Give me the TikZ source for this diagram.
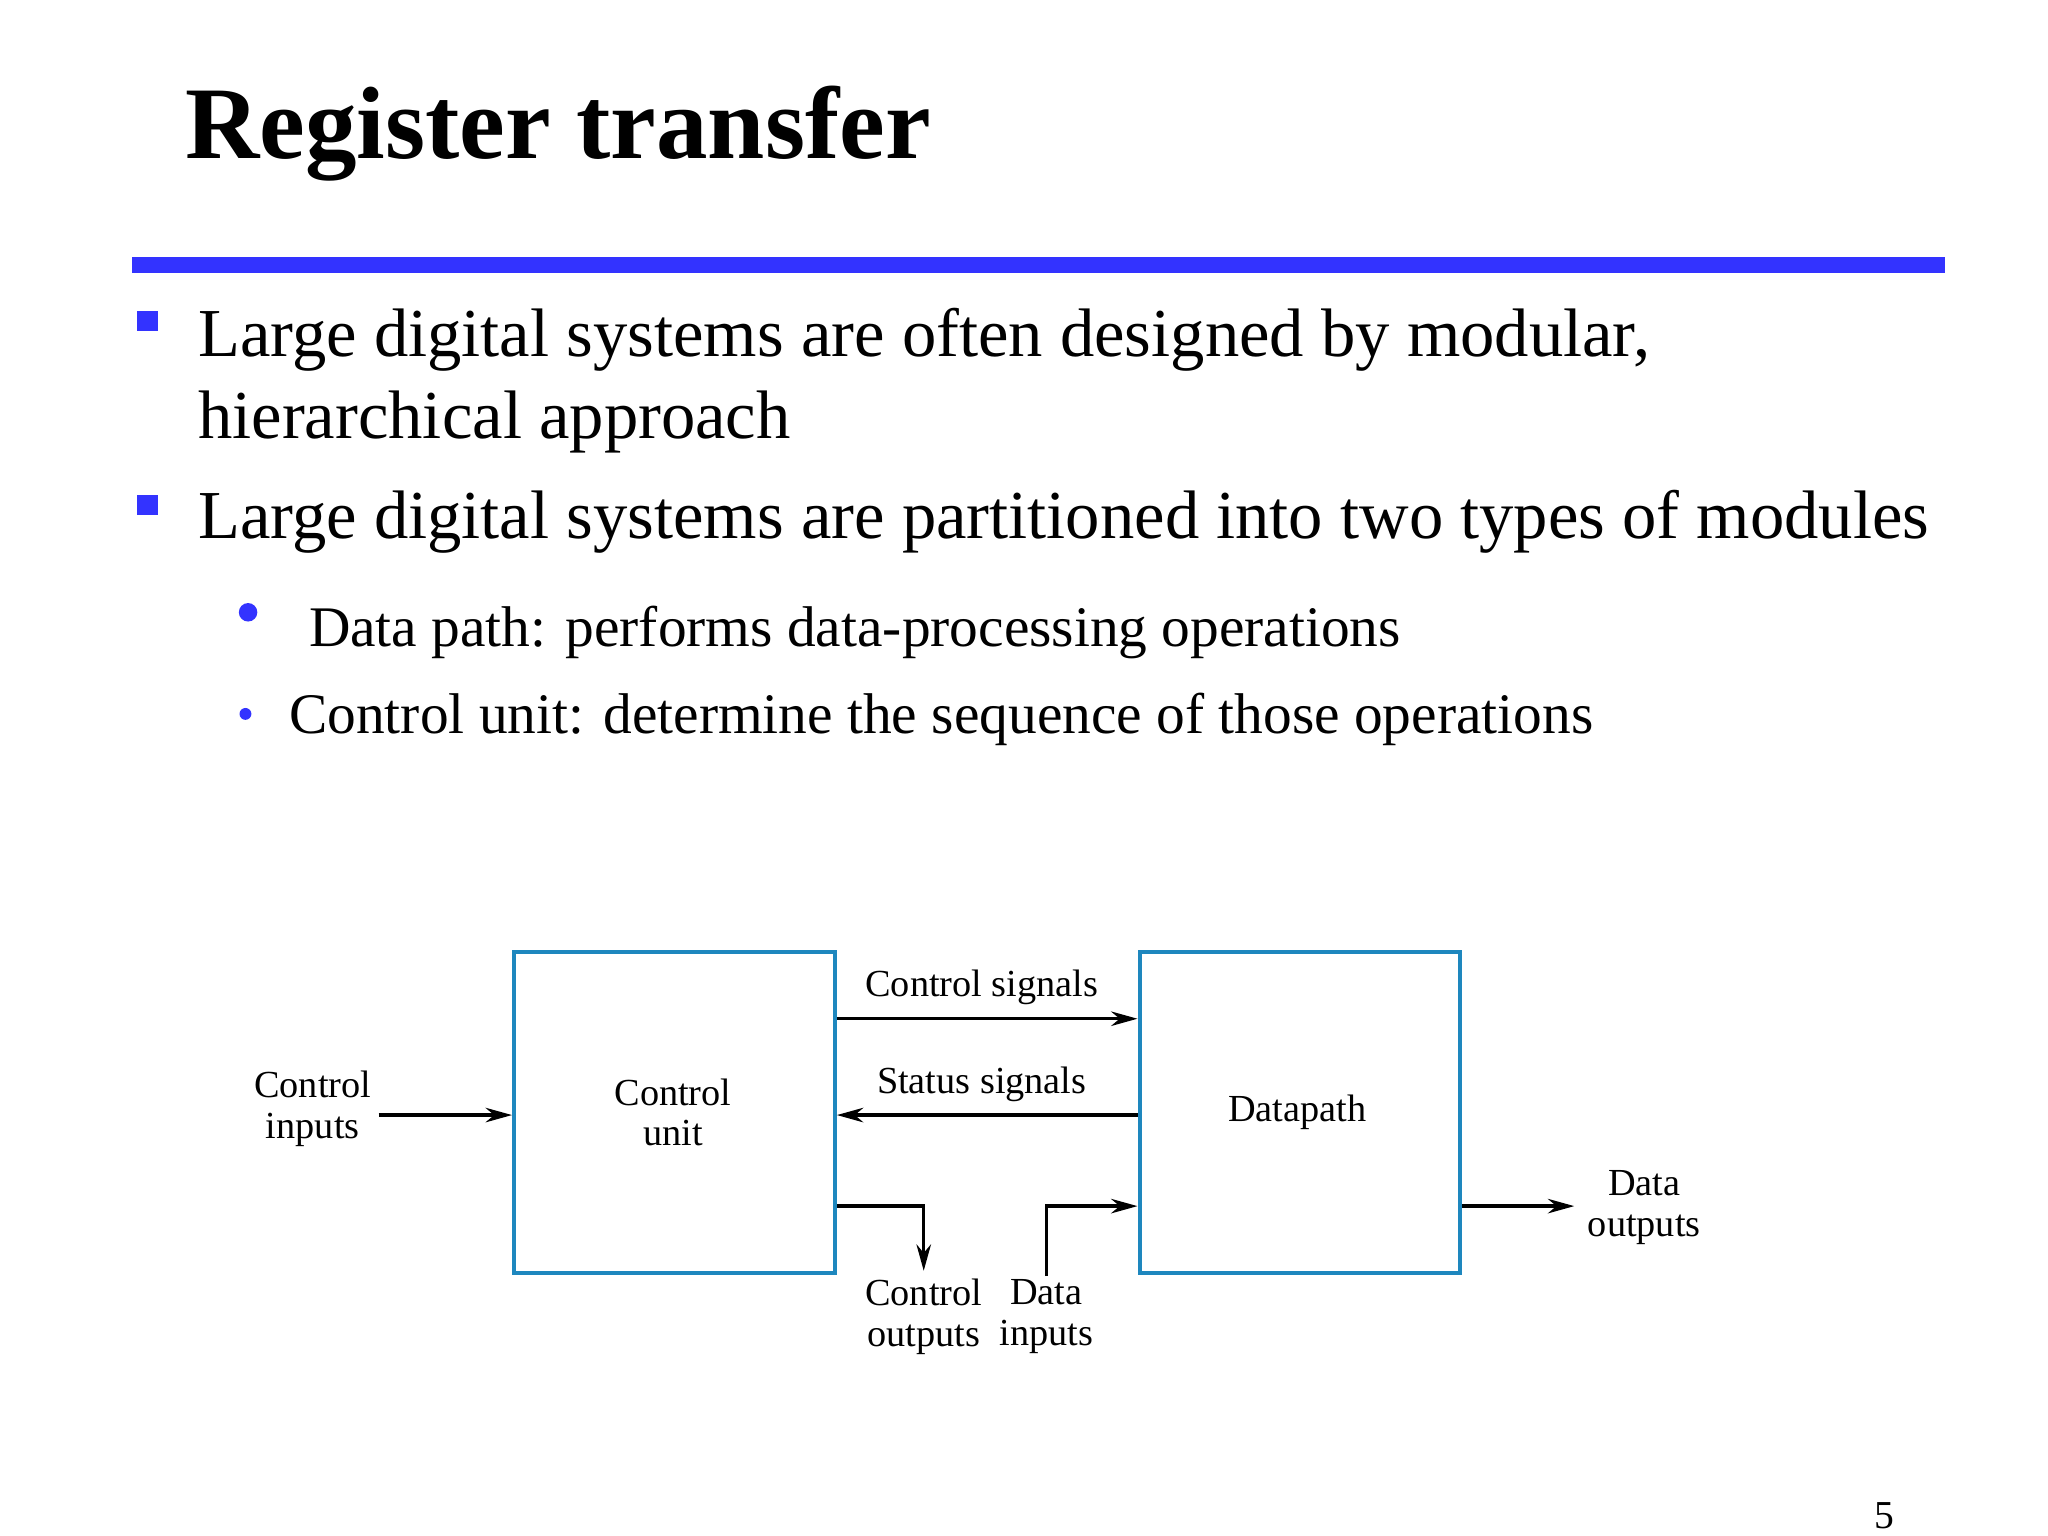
\documentclass[tikz,border=0pt]{standalone}
\usepackage{fontspec}
\setmainfont{Liberation Serif}
\usetikzlibrary{arrows.meta}
\definecolor{slideblue}{RGB}{51,51,255}
\definecolor{boxblue}{RGB}{30,135,190}
\begin{document}
\begin{tikzpicture}[x=1pt,y=-1pt,
  blk/.style={draw=boxblue,line width=3.2pt,minimum width=243pt,minimum height=243pt,anchor=north west,inner sep=0pt},
  lbl/.style={font=\fontsize{29}{31}\selectfont,align=center,inner sep=0pt},
  conn/.style={line width=2.6pt,-{Stealth[length=20pt,width=11pt]}}]
\useasboundingbox[fill=white] (0,0) rectangle (1552,1164);
\node[anchor=base west,inner sep=0pt,font=\fontsize{78}{90}\selectfont\bfseries] (title) at (140,120) {Register transfer};
\fill[slideblue] (100,195) rectangle (1474,207);
\fill[slideblue] (104,236) rectangle (120,251);
\fill[slideblue] (104,375) rectangle (120,390);
\node[anchor=base west,inner sep=0pt,font=\fontsize{52}{62}\selectfont] (l1) at (150,270) {Large digital systems are often designed by modular,};
\node[anchor=base west,inner sep=0pt,font=\fontsize{52}{62}\selectfont] (l2) at (150,332) {hierarchical approach};
\node[anchor=base west,inner sep=0pt,font=\fontsize{52}{62}\selectfont] (l3) at (150,408) {Large digital systems are partitioned into two types of modules};
\fill[slideblue] (188,464) circle (7);
\fill[slideblue] (186,541) circle (4.5);
\node[anchor=base west,inner sep=0pt,font=\fontsize{43.5}{50}\selectfont] (s1) at (234,490) {Data path: performs data-processing operations};
\node[anchor=base west,inner sep=0pt,font=\fontsize{43.5}{50}\selectfont] (s2) at (219,556) {Control unit: determine the sequence of those operations};
\node[blk] (cu) at (388,720) {};
\node[blk] (dp) at (862,720) {};
\node[lbl] at (510,843) {Control\\unit};
\node[lbl] at (983,843) {Datapath};
\node[lbl] (ci) at (237,840) {Control\\inputs};
\node[lbl] (cs) at (744,748) {Control signals};
\node[lbl] (ss) at (744,822) {Status signals};
\node[lbl] (co) at (700,998) {Control\\outputs};
\node[lbl] (di) at (793,998) {Data\\inputs};
\node[lbl] (do) at (1246,915) {Data\\outputs};
\coordinate (cia) at (287,845);
\draw[conn] (cia) -- (cu.west |- cia);
\draw[conn] (cu.east |- 0,772) -- (dp.west |- 0,772);
\draw[conn] (dp.west |- 0,845) -- (cu.east |- 0,845);
\coordinate (coe) at (700,963);
\draw[conn] (cu.east |- 0,914) -- (700,914) -- (coe);
\coordinate (dis) at (793,967);
\draw[conn] (dis) -- (793,914) -- (dp.west |- 0,914);
\coordinate (doe) at (1193,914);
\draw[conn] (dp.east |- 0,914) -- (doe);
\node[anchor=base,inner sep=0pt,font=\fontsize{30}{34}\selectfont] (pn) at (1428,1158) {5};
\end{tikzpicture}
\end{document}
